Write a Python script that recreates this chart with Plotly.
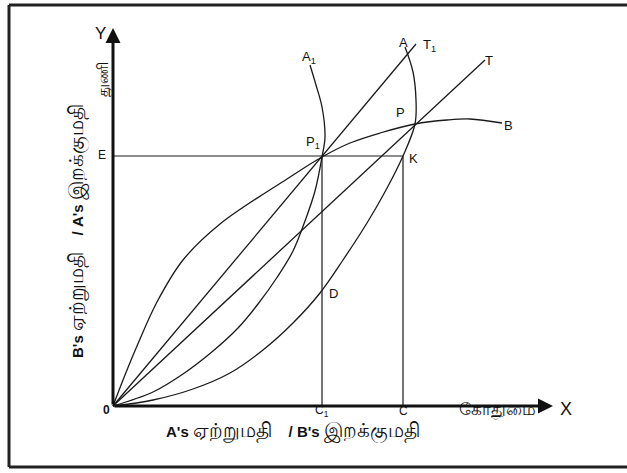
import plotly.graph_objects as go

# diagram units: origin O at (0,0), roughly 1 unit per pixel
# offer curve of B (concave)
b_x = [0, 12, 24, 44, 70, 107, 174, 209, 237, 267, 302, 334, 357, 389]
b_y = [0, 31, 60, 104, 146, 182, 227, 249, 263, 273, 282, 286, 287, 283]

# offer curve of A1 (convex, bends back above P1)
a1_x = [0, 40, 70, 100, 125, 145, 165, 180, 192, 202, 209, 212, 209, 203, 197]
a1_y = [0, 14, 32, 55, 78, 102, 130, 155, 185, 215, 249, 269, 299, 321, 341]

# offer curve of A (convex, through D, K and P)
a_x = [0, 40, 80, 117, 150, 180, 207, 230, 254, 273, 290, 302, 303, 300, 292]
a_y = [0, 6, 17, 33, 56, 83, 113, 146, 183, 216, 250, 282, 306, 334, 359]

# terms of trade lines
t1_x = [0, 303]
t1_y = [0, 362]
t_x = [0, 372]
t_y = [0, 346]

# guide points
c1 = 209   # x of C1 / P1
c = 290    # x of C / K
e = 250    # y of E

fig = go.Figure()
ink = "#1a1a1a"
for xs, ys, sh in [(b_x, b_y, "spline"), (a1_x, a1_y, "spline"), (a_x, a_y, "spline"),
                   (t1_x, t1_y, "linear"), (t_x, t_y, "linear")]:
    fig.add_trace(go.Scatter(x=xs, y=ys, mode="lines", line=dict(color=ink, width=1.3, shape=sh),
                             hoverinfo="skip", showlegend=False))

# E line and the verticals
for xs, ys in [([0, c], [e, e]), ([c1, c1], [0, e]), ([c, c], [0, e])]:
    fig.add_trace(go.Scatter(x=xs, y=ys, mode="lines", line=dict(color=ink, width=1.2),
                             hoverinfo="skip", showlegend=False))

# axes with arrows
fig.add_annotation(x=0, y=378, ax=0, ay=0, xref="x", yref="y", axref="x", ayref="y",
                   showarrow=True, arrowhead=2, arrowsize=1, arrowwidth=3, arrowcolor="#111", text="")
fig.add_annotation(x=440, y=0, ax=0, ay=0, xref="x", yref="y", axref="x", ayref="y",
                   showarrow=True, arrowhead=2, arrowsize=1, arrowwidth=3, arrowcolor="#111", text="")

# frame
frame = dict(color="#222", width=3)
fig.add_shape(type="line", x0=-104, x1=520, y0=401, y1=401, line=frame)
fig.add_shape(type="line", x0=-104, x1=520, y0=-61, y1=-61, line=frame)
fig.add_shape(type="line", x0=-104, x1=-104, y0=-61, y1=401, line=frame)

font = "Liberation Sans, Arial, sans-serif"
labels = [
    ("Y", -13, 373, 17),
    ("E", -11, 251, 12),
    ("<b>0</b>", -7, -4, 12),
    ("A<sub>1</sub>", 196, 349, 13),
    ("P<sub>1</sub>", 200, 264, 13),
    ("A", 290, 364, 13),
    ("T<sub>1</sub>", 316, 361, 13),
    ("T", 376, 346, 13),
    ("P", 287, 294, 13),
    ("B", 395, 281, 13),
    ("K", 300, 248, 13),
    ("D", 220, 113, 13),
    ("C<sub>1</sub>", c1, -5, 12),
    ("C", c, -5, 12),
    ("X", 453, -3, 18),
]
for txt, x, y, sz in labels:
    fig.add_annotation(x=x, y=y, text=txt, showarrow=False, xref="x", yref="y",
                       font=dict(family=font, size=sz, color="#111"))

ta = "<span style='font-size:20px;font-weight:normal'>%s</span>"
fig.add_annotation(x=384, y=-4, text="கோதுமை", showarrow=False,
                   font=dict(family=font, size=17, color="#111"))
fig.add_annotation(x=-10, y=326, text="துணி", showarrow=False, textangle=-90,
                   font=dict(family=font, size=15, color="#111"))
fig.add_annotation(x=180, y=-25,
                   text="<b>A's</b> " + ta % "ஏற்றுமதி" + "    <b>/ B's</b> " + ta % "இறக்குமதி",
                   showarrow=False, font=dict(family=font, size=15, color="#111"))
fig.add_annotation(x=-36, y=175,
                   text="<b>B's</b> " + ta % "ஏற்றுமதி" + "    <b>/ A's</b> " + ta % "இறக்குமதி",
                   showarrow=False, textangle=-90, font=dict(family=font, size=15, color="#111"))

fig.update_xaxes(range=[-113, 514], visible=False)
fig.update_yaxes(range=[-67, 406], visible=False)
fig.update_layout(width=627, height=473, margin=dict(l=0, r=0, t=0, b=0),
                  plot_bgcolor="white", paper_bgcolor="white")
fig.write_html("out.html", config={"displayModeBar": False},
               post_script="document.body.style.margin='0';")
